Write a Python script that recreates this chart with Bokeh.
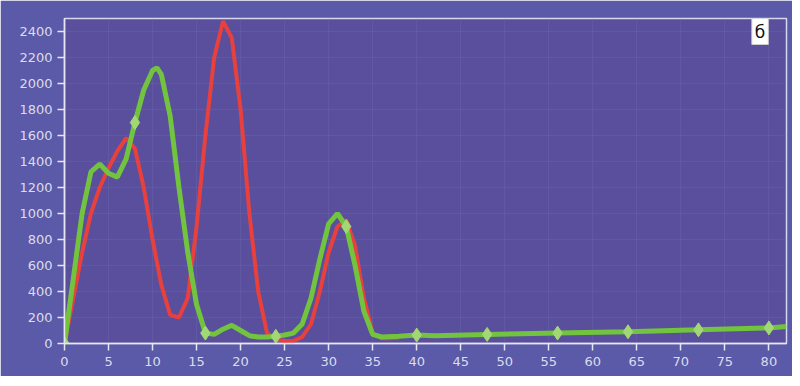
from bokeh.plotting import figure
from bokeh.models import Range1d, SingleIntervalTicker, Label
from bokeh.embed import file_html
from bokeh.resources import INLINE

# Red series
red_x = [0, 1, 2, 3, 4, 5, 6, 7, 8, 9, 10, 11, 12, 13, 14, 15, 16, 17, 18, 19,
         20, 21, 22, 23, 24, 25, 26, 27, 28, 29, 30, 31, 32, 33, 34, 35, 36, 37, 38]
red_y = [0, 350, 700, 1000, 1200, 1350, 1480, 1580, 1500, 1200, 800, 450, 220, 200,
         350, 900, 1600, 2200, 2480, 2350, 1800, 1000, 400, 80, 30, 20, 20, 50, 150,
         400, 700, 900, 950, 750, 350, 80, 40, 40, 45]

# Green series
green_x = [0, 1, 2, 3, 4, 5, 6, 7, 8, 9, 10, 10.5, 11, 12, 13, 14, 15, 16, 17, 18,
           19, 20, 21, 22, 23, 24, 25, 26, 27, 28, 29, 30, 31, 32, 33, 34, 35, 36,
           38, 40, 42, 48, 56, 64, 72, 80, 82]
green_y = [0, 500, 1000, 1320, 1380, 1310, 1280, 1420, 1700, 1950, 2100, 2120, 2070,
           1750, 1200, 700, 300, 80, 70, 110, 140, 100, 60, 50, 50, 55, 65, 80, 150,
           350, 650, 920, 1000, 900, 600, 250, 70, 50, 55, 65, 60, 70, 80, 90, 105,
           120, 130]

# Green markers
mark_x = [0, 8, 16, 24, 32, 40, 48, 56, 64, 72, 80]
mark_y = [0, 1700, 80, 55, 900, 65, 70, 80, 90, 105, 120]

panel_label = "б"

p = figure(width=792, height=376, output_backend="svg", toolbar_location=None,
           x_range=Range1d(0, 82), y_range=Range1d(0, 2500),
           min_border_left=64, min_border_right=6, min_border_top=18, min_border_bottom=33)

p.background_fill_color = "#594f9c"
p.border_fill_color = "#5a5aa8"
p.outline_line_color = "#d8d8ee"
p.outline_line_width = 1.5

p.xaxis.ticker = SingleIntervalTicker(interval=5)
p.yaxis.ticker = SingleIntervalTicker(interval=200)
for ax in (p.xaxis[0], p.yaxis[0]):
    ax.axis_line_color = "#e6e6f2"
    ax.axis_line_width = 1.5
    ax.major_tick_line_color = "#e6e6f2"
    ax.major_tick_line_width = 1.5
    ax.major_tick_out = 7
    ax.major_tick_in = 0
    ax.minor_tick_line_color = None
    ax.major_label_text_color = "#dcdcec"
    ax.major_label_text_font = "DejaVu Sans"
    ax.major_label_text_font_size = "13px"
p.xaxis.major_label_standoff = 6

p.xgrid.grid_line_color = "#7a72b8"
p.xgrid.grid_line_alpha = 0.25
p.ygrid.grid_line_color = "#7a72b8"
p.ygrid.grid_line_alpha = 0.25

p.line(red_x, red_y, line_color="#e8403c", line_width=4)
p.line(green_x, green_y, line_color="#72c43e", line_width=5)
p.scatter(mark_x, mark_y, marker="diamond", size=14, fill_color="#a2d874",
          line_color="#a2d874")

lab = Label(x=79, y=2400, text=panel_label, text_align="center", text_baseline="middle",
            text_font="DejaVu Sans", text_font_size="17px", text_color="#111111",
            background_fill_color="white", border_line_color="#cccccc", padding=3)
p.add_layout(lab)

open("out.html", "w").write(file_html(p, INLINE))
